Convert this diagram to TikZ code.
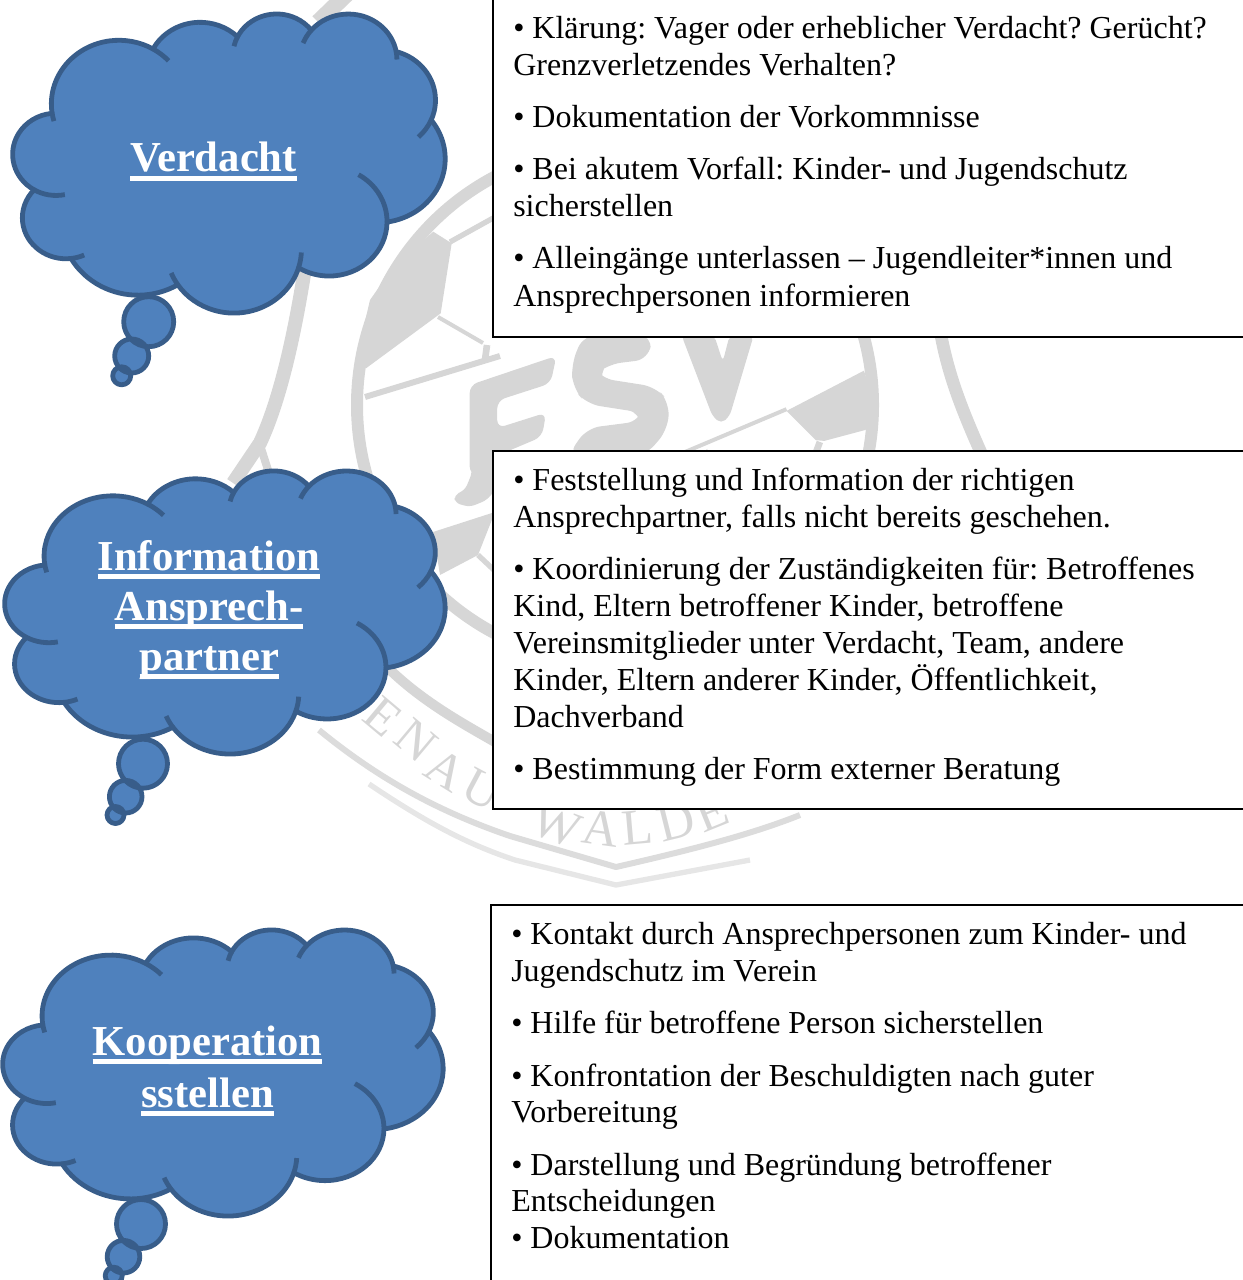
\documentclass[tikz,border=0pt]{standalone}
\usepackage{fontspec}
\setmainfont{Liberation Serif}
\definecolor{cloudfill}{HTML}{4F81BD}
\definecolor{cloudedge}{HTML}{385D8A}
\definecolor{wmgrey}{HTML}{D6D6D6}
\definecolor{marktext}{HTML}{D6D6D6}
\newcommand\ulhead[1]{\setbox0\hbox{#1}\rlap{\rule[-6.75pt]{\wd0}{3.75pt}}\box0}
% one lobe of the cloud: x radius, y radius, start, sweep (visual angles), name of end point
\newcommand\lobe[5]{arc[x radius=#1,y radius=#2,start angle={ta(#3,#1,#2)},end angle={ta(#3,#1,#2)+Mod(ta(#3+#4,#1,#2)-ta(#3,#1,#2),360)}] coordinate (#5) }
\newcommand\tail[5]{\draw[cloudline] (#1) arc[x radius=#2,y radius=#3,start angle={ta(#4,#2,#3)},end angle={ta(#4,#2,#3)+#5}];}
\newcommand\cloudshape[4]{%
 \begin{scope}[shift={(#1,#2)},x=#3*0.75pt/432,y=-#4*0.75pt/432]
  \path[cloudline,fill=cloudfill] (39,143.7) coordinate (c0)
   \lobe{67.53}{91.90}{-190.4875}{123.7805}{c1}
   \lobe{53.33}{72.67}{-144.1024}{89.9452}{c2}
   \lobe{43.65}{59.45}{-145.8079}{99.7230}{c3}
   \lobe{48.57}{65.95}{-130.9861}{117.2417}{c4}
   \lobe{53.33}{72.73}{-78.7089}{109.0269}{c5}
   \lobe{67.75}{92.20}{-46.2673}{130.2690}{c6}
   \lobe{57.85}{78.67}{0.6250}{114.0333}{c7}
   \lobe{67.52}{92.15}{22.4516}{115.1726}{c8}
   \lobe{77.20}{105.43}{66.2426}{75.7110}{c9}
   \lobe{43.60}{59.18}{-274.9421}{146.7356}{c10}
   \lobe{43.45}{59.45}{-246.8285}{152.5189}{c11}
   -- cycle;
  \tail{c0}{67.53}{91.90}{-190.4875}{-8}
  \tail{c1}{67.53}{91.90}{-66.707}{17}
  \tail{c2}{43.65}{59.45}{-145.8079}{-14}
  \tail{c3}{48.57}{65.95}{-130.9861}{-19}
  \tail{c4}{48.57}{65.95}{-13.7444}{10}
  \tail{c5}{53.33}{72.73}{30.318}{24}
  \tail{c6}{57.85}{78.67}{0.6250}{-60}
  \tail{c7}{67.52}{92.15}{22.4516}{-14}
  \tail{c8}{67.52}{92.15}{137.6242}{12}
  \tail{c9}{43.60}{59.18}{-274.9421}{-18}
  \tail{c10}{43.45}{59.45}{-246.8285}{-42}
 \end{scope}}
\newcommand\bubbles[9]{%
 \path[fill=cloudfill] (#1,#2) circle[radius=#3] (#4,#5) circle[radius=#6] (#7,#8) circle[radius=#9];
 \path[cloudline] (#1,#2) circle[radius=#3] (#4,#5) circle[radius=#6] (#7,#8) circle[radius=#9];}
\begin{document}
\begin{tikzpicture}[x=0.75pt,y=-0.75pt,
 declare function={ta(\a,\w,\h)=atan2(\w*sin(\a),\h*cos(\a));},
 cloudline/.style={draw=cloudedge,line width=3.6pt,line join=round},
 textbox/.style={draw=black,line width=1.1pt,fill=white},
 bodytext/.style={anchor=base west,inner sep=0pt,font=\fontsize{24pt}{28pt}\selectfont\frenchspacing,text=black},
 headtext/.style={anchor=base,inner sep=0pt,font=\fontsize{32pt}{38pt}\selectfont\bfseries,text=white},
 wmband/.style={draw=wmgrey,line join=round,fill=none},
 wmletter/.style={text=marktext,inner sep=0pt,font=\fontsize{38pt}{44pt}\selectfont}]
\useasboundingbox (0,0) rectangle (1242,1280);
% --- watermark ---
\draw[wmband,line width=9pt] (615,405) circle[radius=258];
\draw[wmband,line width=12pt] (347,-6) -- (318,22);
\draw[wmband,line width=10.5pt] (307,255) .. controls (295,335) and (280,400) .. (260,443) -- (233,483);
\draw[wmband,line width=6pt] (260,445) -- (268,470);
\draw[wmband,line width=9.5pt] (940,330) .. controls (948,375) and (962,410) .. (982,455);
\draw[wmband,line width=7.5pt] (385,665) .. controls (420,700) and (460,722) .. (495,742);
\draw[draw=wmgrey!85!white,line width=4.5pt,line join=round] (319,730) .. controls (380,780) and (440,812) .. (510,836) -- (616,867) .. controls (690,850) and (750,835) .. (800,815);
\draw[draw=wmgrey!60!white,line width=4pt,line join=round] (369,784) .. controls (430,825) and (470,845) .. (515,860) -- (616,885) -- (750,860);
% ball patches
\fill[wmgrey] (433.3,231.7) -- (451.7,243.3) -- (440.7,313.3) -- (366,368.3) -- (356.7,356.7) -- (370,300) -- (393.3,266.7) -- cycle;
\draw[wmband,line width=3pt] (438,317) -- (483,343);
\draw[wmband,line width=5pt] (487,345) -- (485,360);
\draw[wmband,line width=4.5pt] (365,397) -- (500,356) ;
\draw[wmband,line width=4pt] (450,242) -- (495,217);
\begin{scope}[shift={(480,330)},x=0.75pt/2.904,y=-0.75pt/2.904]
 \fill[wmgrey,rounded corners=6pt] (-30,160) -- (222,75) -- (205,155) -- (50,205) -- (50,285) -- (192,240) -- (180,310) -- (50,365) -- (0,420) -- (-30,420) -- cycle;
 \fill[wmgrey,rounded corners=10pt] (300,15) -- (265,100) -- (270,170) -- (310,215) -- (470,240) -- (465,265) -- (310,285) -- (255,365) -- (480,365) -- (545,290) -- (550,210) -- (510,165) -- (350,140) -- (340,125) -- (370,100) -- (490,85) -- (500,15) -- cycle;
 \fill[wmgrey,rounded corners=4pt] (585,15) -- (675,250) -- (700,272) -- (725,250) -- (795,15) -- (725,15) -- (705,92) -- (680,15) -- cycle;
 \fill[wmgrey] (890,235) -- (1115,118) -- (1140,200) -- (1120,290) -- (1000,322) -- (975,320) -- cycle;
 \draw[wmband,line width=3pt] (570,365) -- (890,230);
 \draw[wmband,line width=5pt] (987,325) -- (970,370);
 \fill[wmgrey] (640,365) -- (660,345) -- (660,365) -- cycle;
\end{scope}
\fill[wmgrey,rounded corners=4pt] (470,440) -- (472,473) -- (465,490) -- (454,495) -- (455,503) -- (470,507) -- (487,500) -- (495,490) -- (495,440) -- cycle;
\fill[wmgrey] (433,532) -- (495,512) -- (478,555) -- (440,575) -- cycle;
\draw[wmband,line width=4pt] (478,555) -- (495,571);
\node[wmletter,rotate=-40] (wE) at (383,717) {E};
\node[wmletter,rotate=-40] (wN) at (416,741) {N};
\node[wmletter,rotate=-32] (wA) at (446,770) {A};
\node[wmletter,rotate=-28] (wU) at (482,790) {U};
\node[wmletter,rotate=-20] (wW) at (557,825) {W};
\node[wmletter,rotate=-8] (wA2) at (601,828) {A};
\node[wmletter,rotate=5] (wL) at (637,828) {L};
\node[wmletter,rotate=14] (wD) at (676,822) {D};
\node[wmletter,rotate=22] (wE2) at (712,812) {E};
% --- text boxes ---
\draw[textbox] (493,-10) rectangle (1260,337);
\draw[textbox] (493,451) rectangle (1260,809);
\draw[textbox] (491,905) rectangle (1260,1300);
% --- clouds ---
\bubbles{148.7}{321.7}{25}{131.7}{356}{17}{121.7}{375.8}{9}
\cloudshape{13}{13}{432}{299}
\bubbles{143}{763.7}{24.5}{125.7}{796.7}{16.3}{115.5}{815}{8.5}
\cloudshape{5}{470}{440}{283}
\bubbles{141}{1224}{24.5}{123.5}{1256.7}{16.3}{113.7}{1275.7}{8.5}
\cloudshape{3}{929}{440}{286}
% --- headings ---
\node[headtext] (h1) at (213.5,172) {\ulhead{Verdacht}};
\node[headtext] (h2a) at (209,570) {\ulhead{Information}};
\node[headtext] (h2b) at (209,620) {\ulhead{Ansprech-}};
\node[headtext] (h2c) at (209.5,670) {\ulhead{partner}};
\node[headtext] (h3a) at (207.5,1055) {\ulhead{Kooperation}};
\node[headtext] (h3b) at (207.5,1107) {\ulhead{sstellen}};
% --- body text ---
\node[bodytext] (ta1) at (513,39) {• Klärung: Vager oder erheblicher Verdacht? Gerücht?};
\node[bodytext] (ta2) at (513,76) {Grenzverletzendes Verhalten?};
\node[bodytext] (ta3) at (513,128) {• Dokumentation der Vorkommnisse};
\node[bodytext] (ta4) at (513,180) {• Bei akutem Vorfall: Kinder- und Jugendschutz};
\node[bodytext] (ta5) at (513,217) {sicherstellen};
\node[bodytext] (ta6) at (513,268) {• Alleingänge unterlassen – Jugendleiter*innen und};
\node[bodytext] (ta7) at (513,306) {Ansprechpersonen informieren};
\node[bodytext] (tb1) at (513,490) {• Feststellung und Information der richtigen};
\node[bodytext] (tb2) at (513,527) {Ansprechpartner, falls nicht bereits geschehen.};
\node[bodytext] (tb3) at (513,579) {• Koordinierung der Zuständigkeiten für: Betroffenes};
\node[bodytext] (tb4) at (513,616) {Kind, Eltern betroffener Kinder, betroffene};
\node[bodytext] (tb5) at (513,653) {Vereinsmitglieder unter Verdacht, Team, andere};
\node[bodytext] (tb6) at (513,690) {Kinder, Eltern anderer Kinder, Öffentlichkeit,};
\node[bodytext] (tb7) at (513,727) {Dachverband};
\node[bodytext] (tb8) at (513,779) {• Bestimmung der Form externer Beratung};
\node[bodytext] (tc1) at (511,944) {• Kontakt durch Ansprechpersonen zum Kinder- und};
\node[bodytext] (tc2) at (511,981) {Jugendschutz im Verein};
\node[bodytext] (tc3) at (511,1033) {• Hilfe für betroffene Person sicherstellen};
\node[bodytext] (tc4) at (511,1086) {• Konfrontation der Beschuldigten nach guter};
\node[bodytext] (tc5) at (511,1122) {Vorbereitung};
\node[bodytext] (tc6) at (511,1175) {• Darstellung und Begründung betroffener};
\node[bodytext] (tc7) at (511,1211) {Entscheidungen};
\node[bodytext] (tc8) at (511,1248) {• Dokumentation};
\end{tikzpicture}
\end{document}
